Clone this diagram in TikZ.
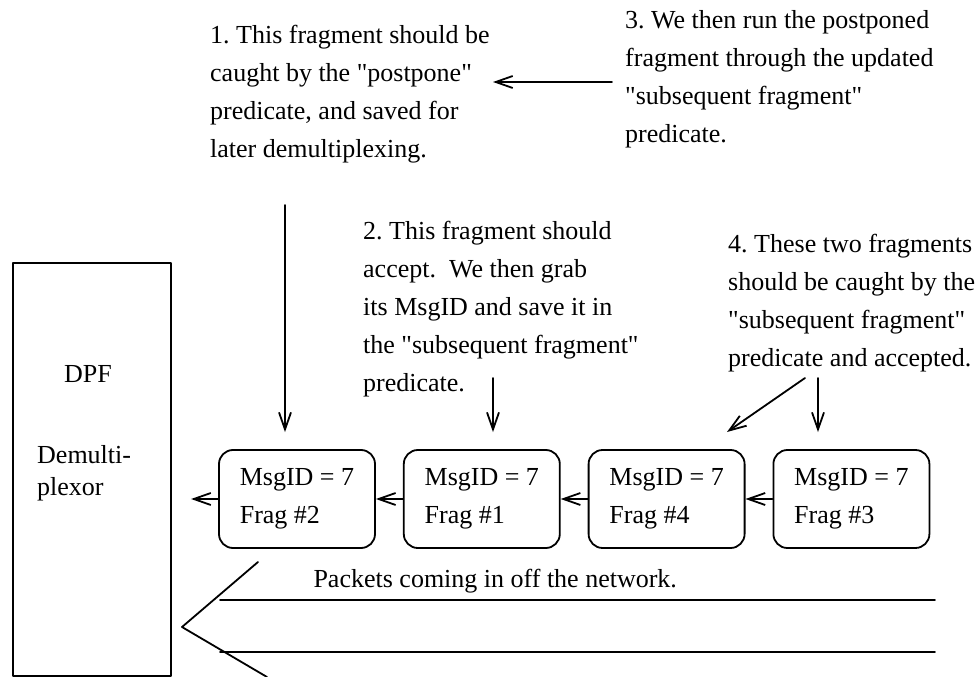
\documentclass[tikz,border=0pt]{standalone}
\usepackage{fontspec}
\setmainfont{Liberation Serif}
\usetikzlibrary{arrows.meta,positioning}
\newcommand{\dq}{\textquotedbl}

\begin{document}
\frenchspacing
\begin{tikzpicture}[x=1pt, y=-1pt, >={Straight Barb[length=17pt,width=12pt]},
    line cap=round, line join=round,
    font=\fontsize{26}{38}\selectfont,
    frag/.style={draw, line width=1.8pt, rounded corners=14pt,
      minimum width=156pt, minimum height=98pt, align=left},
    note/.style={anchor=north west, inner sep=0pt, align=left},
    link/.style={->, line width=1.8pt}]

  \useasboundingbox (0,0) rectangle (978,677);

  % The demultiplexor on the left
  \node[draw, line width=1.8pt, anchor=north west,
        minimum width=158pt, minimum height=413pt] (DPF) at (12,262) {};
  \node[anchor=base] (DPFName) at (88,382) {DPF};
  \node[note, font=\fontsize{26}{32}\selectfont] (DPFRole) at (37,445) {Demulti-\\plexor};

  % Queue of fragments, all with the same MsgID
  \node[frag] (Frag2) at (297,499) {MsgID = 7\\Frag \#2};
  \node[frag, right=27pt of Frag2] (Frag1) {MsgID = 7\\Frag \#1};
  \node[frag, right=27pt of Frag1] (Frag4) {MsgID = 7\\Frag \#4};
  \node[frag, right=27pt of Frag4] (Frag3) {MsgID = 7\\Frag \#3};

  % Fragments move towards the DPF
  \draw[link] (Frag3.west) -- (Frag4.east);
  \draw[link] (Frag4.west) -- (Frag1.east);
  \draw[link] (Frag1.west) -- (Frag2.east);
  \draw[link] (Frag2.west) -- ++(-27,0) coordinate (DPFIn);

  % Notes on what happens to each fragment
  \node[note] (NoteOne) at (210,25) {1. This fragment should be\\caught by the \dq postpone\dq\\predicate, and saved for\\later demultiplexing.};
  \node[note] (NoteTwo) at (363,221) {2. This fragment should\\accept.\enspace We then grab\\its MsgID and save it in\\the \dq subsequent fragment\dq\\predicate.};
  \node[note] (NoteThree) at (625,10) {3. We then run the postponed\\fragment through the updated\\\dq subsequent fragment\dq\\predicate.};
  \node[note] (NoteFour) at (728,234) {4. These two fragments\\should be caught by the\\\dq subsequent fragment\dq\\predicate and accepted.};

  % Arrows from the notes
  \coordinate (OneFoot)   at (285,205);
  \coordinate (TwoFoot)   at (493,378);
  \coordinate (ThreeFoot) at (612,82);
  \coordinate (FourFoot)  at (818,378);
  \coordinate (FourSlant) at (805,378);
  \draw[link, shorten >=17pt] (OneFoot) -- (OneFoot |- Frag2.north);
  \draw[link, shorten >=17pt] (TwoFoot) -- (TwoFoot |- Frag1.north);
  \draw[link] (ThreeFoot) -- (493,82);
  \draw[link, shorten >=17pt] (FourFoot) -- (FourFoot |- Frag3.north);
  \draw[link] (FourSlant) -- (727,432);

  % The incoming network, drawn as a broad arrow
  \node[anchor=base west] (NetLabel) at (310,587) {Packets coming in off the network.};
  \coordinate (NetTop)    at (258,562);
  \coordinate (NetTip)    at (182,627);
  \coordinate (NetBottom) at (267,677);
  \draw[line width=1.8pt] (NetTop) -- (NetTip) -- (NetBottom);
  \draw[line width=1.8pt] (220,600) -- (935,600);
  \draw[line width=1.8pt] (220,652) -- (935,652);
\end{tikzpicture}
\end{document}
